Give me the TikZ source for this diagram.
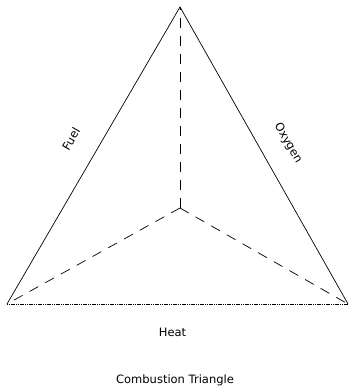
\documentclass[tikz,border=0pt]{standalone}
\usepackage{fontspec}
\setmainfont{DejaVu Sans}
\begin{document}
\begin{tikzpicture}[x=1pt,y=-1pt,
  edge/.style={line width=0.7pt},
  hidden/.style={line width=0.7pt, dash pattern=on 10pt off 8pt},
  base/.style={line width=0.6pt, dash pattern=on 1.2pt off 0.6pt},
  lbl/.style={font=\fontsize{11.5}{13}\selectfont, inner sep=0pt}]
\useasboundingbox (0,0) rectangle (349,387);
\coordinate (A) at (180,7);
\coordinate (L) at (7,304);
\coordinate (R) at (348,304);
\coordinate (C) at (180,208);
\draw[edge] (L) -- (A) -- (R);
\draw[base] (L) -- (R);
\draw[hidden] (C) -- (A);
\draw[hidden] (C) -- (L);
\draw[hidden] (C) -- (R);
\node[lbl, rotate=60] (fuel) at (71,139) {Fuel};
\node[lbl, rotate=-60] (oxy) at (288,143) {Oxygen};
\node[lbl] (heat) at (172.5,332) {Heat};
\node[lbl] (cap) at (175,380) {Combustion Triangle};
\end{tikzpicture}
\end{document}
